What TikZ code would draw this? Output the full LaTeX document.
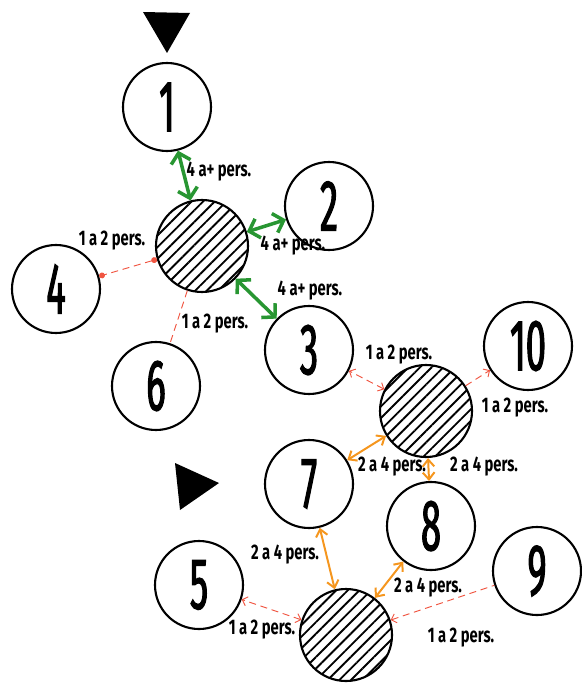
\documentclass[tikz,border=0pt]{standalone}
\usepackage{fontspec}
\newfontfamily\numfont[FakeStretch=0.5, FakeBold=1.5]{Fira Sans}
\newfontfamily\labfont[FakeStretch=0.7]{Fira Sans}
\usetikzlibrary{arrows.meta,patterns.meta}
\definecolor{tableGreen}{RGB}{40,150,50}
\definecolor{tableOrange}{RGB}{245,150,30}
\definecolor{tableRed}{RGB}{240,85,65}

\begin{document}
\begin{tikzpicture}[x=0.03cm, y=-0.03cm,
  room/.style={draw, circle, line width=1.8pt, minimum size=2.64cm, inner sep=0pt, font=\numfont\fontsize{62}{62}\selectfont},
  hub/.style={draw, circle, line width=1.8pt, minimum size=2.76cm, inner sep=0pt, pattern={Lines[angle=45,distance=7pt,line width=1.6pt]}},
  lab/.style={inner sep=1pt, font=\labfont\bfseries\fontsize{18}{18}\selectfont},
  many/.style={tableGreen, line width=3pt, {Straight Barb[length=8pt,width=17pt]}-{Straight Barb[length=8pt,width=17pt]}},
  mid/.style={tableOrange, line width=1.7pt, {Straight Barb[length=6pt,width=10pt]}-{Straight Barb[length=6pt,width=10pt]}},
  few/.style={tableRed, line width=0.8pt, dash pattern=on 6pt off 4pt}]
\useasboundingbox (0,0) rectangle (581,683);

% tables
\node[room] (n1) at (167,107) {1};
\node[room] (n2) at (329,206) {2};
\node[room] (n3) at (309,350) {3};
\node[room] (n4) at (56,289) {4};
\node[room] (n6) at (156,386) {6};
\node[room] (n10) at (528,346) {10};
\node[room] (n7) at (309,484) {7};
\node[room] (n8) at (431,526) {8};
\node[room] (n9) at (537,571) {9};
\node[room] (n5) at (199,585) {5};

% groups
\node[hub] (ha) at (202,246) {};
\node[hub] (hb) at (426,411) {};
\node[hub] (hc) at (346,635) {};

% entry marks
\fill (143,12) -- (190,13) -- (167,53) -- cycle;
\fill (175,463) -- (219,483) -- (180,510) -- cycle;

\draw[many] (n1) -- (ha);
\draw[many] (ha) -- (n2);
\draw[many] (ha) -- (n3);
\draw[few, {Circle[length=5pt]}-{Circle[length=5pt]}] (ha) -- (n4);
\draw[few] (ha) -- (n6);
\draw[few, {Straight Barb[length=4pt,width=8pt]}-{Straight Barb[length=4pt,width=8pt]}] (hb) -- (n3);
\draw[few, -{Straight Barb[length=4pt,width=8pt]}] (hb) -- (n10);
\draw[mid] (hb) -- (n7);
\draw[mid] (hb) -- (n8);
\draw[mid] (n7) -- (hc);
\draw[mid] (n8) -- (hc);
\draw[few, {Straight Barb[length=4pt,width=8pt]}-{Straight Barb[length=4pt,width=8pt]}] (hc) -- (n5);
\draw[few, {Straight Barb[length=4pt,width=8pt]}-] (hc) -- (n9);

% labels
\node[lab] (l1) at (219,172) {4 a+ pers.};
\node[lab] (l2) at (293,246) {4 a+ pers.};
\node[lab] (l3) at (310,291) {4 a+ pers.};
\node[lab] (l4) at (112,241) {1 a 2 pers.};
\node[lab] (l6) at (215,324) {1 a 2 pers.};
\node[lab] (lb3) at (399,355) {1 a 2 pers.};
\node[lab] (l10) at (515,408) {1 a 2 pers.};
\node[lab] (l7) at (392,467) {2 a 4 pers.};
\node[lab] (l8) at (484,467) {2 a 4 pers.};
\node[lab] (lc7) at (285,555) {2 a 4 pers.};
\node[lab] (lc8) at (428,588) {2 a 4 pers.};
\node[lab] (l5) at (262,630) {1 a 2 pers.};
\node[lab] (l9) at (461,638) {1 a 2 pers.};
\end{tikzpicture}
\end{document}
